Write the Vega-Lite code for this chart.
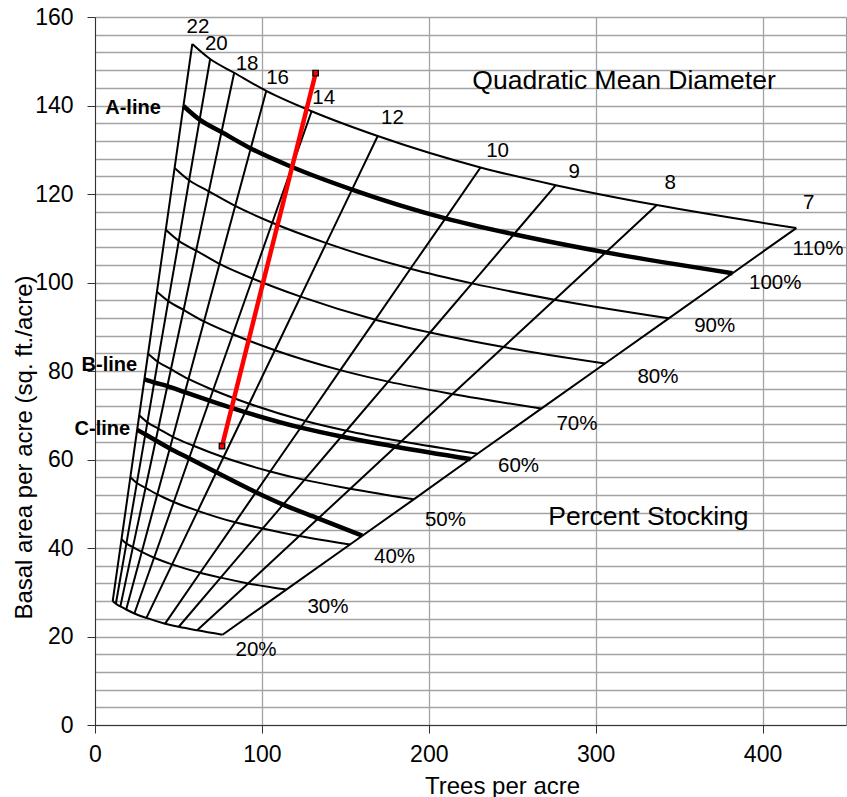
{
  "$schema": "https://vega.github.io/schema/vega-lite/v6.json",
  "width": 751,
  "height": 708,
  "autosize": {"type": "none"},
  "padding": {"left": 95, "top": 17, "right": 1, "bottom": 72},
  "config": {
    "font": "Liberation Sans",
    "view": {"stroke": "#9a9a9a", "strokeWidth": 1},
    "axis": {
      "labelFont": "Liberation Sans",
      "titleFont": "Liberation Sans",
      "labelColor": "black",
      "titleColor": "black",
      "titleFontWeight": "normal",
      "domainColor": "#333",
      "tickColor": "#333",
      "gridColor": "#a3a3a3",
      "gridWidth": 1.3,
      "labelFlush": false,
      "labelOverlap": false,
      "labelBound": false
    }
  },
  "datasets": {
    "grid": [
      {"d": 7, "s": 20, "tpa": 76.4, "ba": 20.4}, {"d": 8, "s": 20, "tpa": 61.2, "ba": 21.4}, {"d": 9, "s": 20, "tpa": 50.2, "ba": 22.2}, {"d": 10, "s": 20, "tpa": 42.0, "ba": 22.9}, {"d": 12, "s": 20, "tpa": 30.8, "ba": 24.2}, {"d": 14, "s": 20, "tpa": 23.6, "ba": 25.2}, {"d": 16, "s": 20, "tpa": 18.7, "ba": 26.1}, {"d": 18, "s": 20, "tpa": 15.2, "ba": 26.8}, {"d": 20, "s": 20, "tpa": 12.5, "ba": 27.4}, {"d": 22, "s": 20, "tpa": 10.6, "ba": 28.0},
      {"d": 7, "s": 30, "tpa": 114.6, "ba": 30.6}, {"d": 8, "s": 30, "tpa": 91.8, "ba": 32.0}, {"d": 9, "s": 30, "tpa": 75.3, "ba": 33.3}, {"d": 10, "s": 30, "tpa": 63.0, "ba": 34.4}, {"d": 12, "s": 30, "tpa": 46.2, "ba": 36.3}, {"d": 14, "s": 30, "tpa": 35.4, "ba": 37.8}, {"d": 16, "s": 30, "tpa": 28.0, "ba": 39.1}, {"d": 18, "s": 30, "tpa": 22.7, "ba": 40.2}, {"d": 20, "s": 30, "tpa": 18.8, "ba": 41.0}, {"d": 22, "s": 30, "tpa": 15.9, "ba": 42.0},
      {"d": 7, "s": 40, "tpa": 152.8, "ba": 40.8}, {"d": 8, "s": 40, "tpa": 122.4, "ba": 42.7}, {"d": 9, "s": 40, "tpa": 100.4, "ba": 44.4}, {"d": 10, "s": 40, "tpa": 84.0, "ba": 45.8}, {"d": 12, "s": 40, "tpa": 61.6, "ba": 48.4}, {"d": 14, "s": 40, "tpa": 47.2, "ba": 50.4}, {"d": 16, "s": 40, "tpa": 37.3, "ba": 52.1}, {"d": 18, "s": 40, "tpa": 30.3, "ba": 53.6}, {"d": 20, "s": 40, "tpa": 25.1, "ba": 54.7}, {"d": 22, "s": 40, "tpa": 21.2, "ba": 56.0},
      {"d": 7, "s": 50, "tpa": 191.0, "ba": 51.0}, {"d": 8, "s": 50, "tpa": 153.0, "ba": 53.4}, {"d": 9, "s": 50, "tpa": 125.5, "ba": 55.4}, {"d": 10, "s": 50, "tpa": 105.0, "ba": 57.3}, {"d": 12, "s": 50, "tpa": 77.0, "ba": 60.5}, {"d": 14, "s": 50, "tpa": 59.0, "ba": 63.1}, {"d": 16, "s": 50, "tpa": 46.7, "ba": 65.1}, {"d": 18, "s": 50, "tpa": 37.9, "ba": 67.0}, {"d": 20, "s": 50, "tpa": 31.4, "ba": 68.4}, {"d": 22, "s": 50, "tpa": 26.5, "ba": 70.0},
      {"d": 7, "s": 60, "tpa": 229.2, "ba": 61.3}, {"d": 8, "s": 60, "tpa": 183.6, "ba": 64.1}, {"d": 9, "s": 60, "tpa": 150.6, "ba": 66.5}, {"d": 10, "s": 60, "tpa": 126.0, "ba": 68.7}, {"d": 12, "s": 60, "tpa": 92.4, "ba": 72.6}, {"d": 14, "s": 60, "tpa": 70.8, "ba": 75.7}, {"d": 16, "s": 60, "tpa": 56.0, "ba": 78.2}, {"d": 18, "s": 60, "tpa": 45.5, "ba": 80.4}, {"d": 20, "s": 60, "tpa": 37.6, "ba": 82.1}, {"d": 22, "s": 60, "tpa": 31.8, "ba": 83.9},
      {"d": 7, "s": 70, "tpa": 267.4, "ba": 71.5}, {"d": 8, "s": 70, "tpa": 214.2, "ba": 74.8}, {"d": 9, "s": 70, "tpa": 175.7, "ba": 77.6}, {"d": 10, "s": 70, "tpa": 147.0, "ba": 80.2}, {"d": 12, "s": 70, "tpa": 107.8, "ba": 84.7}, {"d": 14, "s": 70, "tpa": 82.6, "ba": 88.3}, {"d": 16, "s": 70, "tpa": 65.3, "ba": 91.2}, {"d": 18, "s": 70, "tpa": 53.1, "ba": 93.8}, {"d": 20, "s": 70, "tpa": 43.9, "ba": 95.8}, {"d": 22, "s": 70, "tpa": 37.1, "ba": 97.9},
      {"d": 7, "s": 80, "tpa": 305.6, "ba": 81.7}, {"d": 8, "s": 80, "tpa": 244.8, "ba": 85.4}, {"d": 9, "s": 80, "tpa": 200.8, "ba": 88.7}, {"d": 10, "s": 80, "tpa": 168.0, "ba": 91.6}, {"d": 12, "s": 80, "tpa": 123.2, "ba": 96.8}, {"d": 14, "s": 80, "tpa": 94.4, "ba": 100.9}, {"d": 16, "s": 80, "tpa": 74.6, "ba": 104.2}, {"d": 18, "s": 80, "tpa": 60.6, "ba": 107.2}, {"d": 20, "s": 80, "tpa": 50.2, "ba": 109.4}, {"d": 22, "s": 80, "tpa": 42.4, "ba": 111.9},
      {"d": 7, "s": 90, "tpa": 343.8, "ba": 91.9}, {"d": 8, "s": 90, "tpa": 275.4, "ba": 96.1}, {"d": 9, "s": 90, "tpa": 225.9, "ba": 99.8}, {"d": 10, "s": 90, "tpa": 189.0, "ba": 103.1}, {"d": 12, "s": 90, "tpa": 138.6, "ba": 108.9}, {"d": 14, "s": 90, "tpa": 106.2, "ba": 113.5}, {"d": 16, "s": 90, "tpa": 84.0, "ba": 117.3}, {"d": 18, "s": 90, "tpa": 68.2, "ba": 120.6}, {"d": 20, "s": 90, "tpa": 56.4, "ba": 123.1}, {"d": 22, "s": 90, "tpa": 47.7, "ba": 125.9},
      {"d": 7, "s": 100, "tpa": 382.0, "ba": 102.1}, {"d": 8, "s": 100, "tpa": 306.0, "ba": 106.8}, {"d": 9, "s": 100, "tpa": 251.0, "ba": 110.9}, {"d": 10, "s": 100, "tpa": 210.0, "ba": 114.5}, {"d": 12, "s": 100, "tpa": 154.0, "ba": 121.0}, {"d": 14, "s": 100, "tpa": 118.0, "ba": 126.1}, {"d": 16, "s": 100, "tpa": 93.3, "ba": 130.3}, {"d": 18, "s": 100, "tpa": 75.8, "ba": 134.0}, {"d": 20, "s": 100, "tpa": 62.7, "ba": 136.8}, {"d": 22, "s": 100, "tpa": 53.0, "ba": 139.9},
      {"d": 7, "s": 110, "tpa": 420.2, "ba": 112.3}, {"d": 8, "s": 110, "tpa": 336.6, "ba": 117.5}, {"d": 9, "s": 110, "tpa": 276.1, "ba": 122.0}, {"d": 10, "s": 110, "tpa": 231.0, "ba": 126.0}, {"d": 12, "s": 110, "tpa": 169.4, "ba": 133.1}, {"d": 14, "s": 110, "tpa": 129.8, "ba": 138.7}, {"d": 16, "s": 110, "tpa": 102.6, "ba": 143.3}, {"d": 18, "s": 110, "tpa": 83.4, "ba": 147.4}, {"d": 20, "s": 110, "tpa": 69.0, "ba": 150.5}, {"d": 22, "s": 110, "tpa": 58.3, "ba": 153.9}
    ],
    "bline": [
      {"d": 22, "tpa": 29.6, "ba": 78.1}, {"d": 20, "tpa": 35.5, "ba": 77.4}, {"d": 18, "tpa": 43.4, "ba": 76.6}, {"d": 16, "tpa": 53.8, "ba": 75.2}, {"d": 14, "tpa": 68.6, "ba": 73.3}, {"d": 12, "tpa": 89.9, "ba": 70.7}, {"d": 10, "tpa": 123.3, "ba": 67.2}, {"d": 9, "tpa": 147.6, "ba": 65.2}, {"d": 8, "tpa": 180.2, "ba": 62.9}, {"d": 7, "tpa": 225.0, "ba": 60.1}
    ],
    "cline": [
      {"d": 22, "tpa": 25.3, "ba": 66.7}, {"d": 20, "tpa": 30.1, "ba": 65.7}, {"d": 18, "tpa": 36.4, "ba": 64.3}, {"d": 16, "tpa": 44.8, "ba": 62.5}, {"d": 14, "tpa": 56.4, "ba": 60.3}, {"d": 12, "tpa": 72.7, "ba": 57.1}, {"d": 10, "tpa": 96.4, "ba": 52.6}, {"d": 9, "tpa": 112.7, "ba": 49.8}, {"d": 8, "tpa": 133.7, "ba": 46.7}, {"d": 7, "tpa": 160.1, "ba": 42.8}
    ],
    "red": [
      {"tpa": 76.1, "ba": 63.0}, {"tpa": 132.2, "ba": 147.3}
    ],
    "labels": [
      {"kind": "d", "label": "22", "tpa": 61.7, "ba": 157.7},
      {"kind": "d", "label": "20", "tpa": 72.7, "ba": 153.8},
      {"kind": "d", "label": "18", "tpa": 91.1, "ba": 149.4},
      {"kind": "d", "label": "16", "tpa": 109.4, "ba": 146.3},
      {"kind": "d", "label": "14", "tpa": 137.0, "ba": 141.6},
      {"kind": "d", "label": "12", "tpa": 178.2, "ba": 137.2},
      {"kind": "d", "label": "10", "tpa": 241.2, "ba": 129.8},
      {"kind": "d", "label": "9", "tpa": 287.2, "ba": 124.9},
      {"kind": "d", "label": "8", "tpa": 344.7, "ba": 122.4},
      {"kind": "d", "label": "7", "tpa": 427.6, "ba": 117.9},
      {"kind": "d", "label": "110%", "tpa": 433.2, "ba": 107.5},
      {"kind": "d", "label": "100%", "tpa": 407.6, "ba": 100.0},
      {"kind": "d", "label": "90%", "tpa": 371.3, "ba": 90.2},
      {"kind": "d", "label": "80%", "tpa": 337.3, "ba": 78.7},
      {"kind": "d", "label": "70%", "tpa": 288.8, "ba": 68.0},
      {"kind": "d", "label": "60%", "tpa": 253.8, "ba": 58.5},
      {"kind": "d", "label": "50%", "tpa": 210.0, "ba": 46.3},
      {"kind": "d", "label": "40%", "tpa": 179.5, "ba": 37.9},
      {"kind": "d", "label": "30%", "tpa": 139.6, "ba": 26.6},
      {"kind": "d", "label": "20%", "tpa": 96.5, "ba": 16.9},
      {"kind": "big", "label": "Quadratic Mean Diameter", "tpa": 317.0, "ba": 145.6},
      {"kind": "big", "label": "Percent Stocking", "tpa": 331.6, "ba": 47.0},
      {"kind": "line", "label": "A-line", "tpa": 22.8, "ba": 139.5},
      {"kind": "line", "label": "B-line", "tpa": 8.6, "ba": 81.4},
      {"kind": "line", "label": "C-line", "tpa": 4.4, "ba": 66.8}
    ]
  },
  "layer": [
    {
      "data": {"name": "grid"},
      "mark": {"type": "line", "color": "black", "strokeWidth": 2},
      "encoding": {
        "x": {
          "field": "tpa", "type": "quantitative",
          "scale": {"domain": [0, 450], "nice": false, "zero": false},
          "axis": {
            "values": [0, 100, 200, 300, 400],
            "title": "Trees per acre",
            "tickSize": 8,
            "labelFontSize": 23,
            "labelPadding": 10,
            "titleFontSize": 24,
            "titleX": 407,
            "titleY": 68,
            "titleAlign": "center",
            "titleBaseline": "alphabetic"
          }
        },
        "y": {
          "field": "ba", "type": "quantitative",
          "scale": {"domain": [0, 160], "nice": false, "zero": false},
          "axis": {
            "values": [0, 4, 8, 12, 16, 20, 24, 28, 32, 36, 40, 44, 48, 52, 56, 60, 64, 68, 72, 76, 80, 84, 88, 92, 96, 100, 104, 108, 112, 116, 120, 124, 128, 132, 136, 140, 144, 148, 152, 156, 160],
            "tickCount": 100,
            "labelExpr": "datum.value % 20 === 0 ? datum.label : ''",
            "tickOpacity": {"condition": {"test": "datum.value % 20 === 0", "value": 1}, "value": 0},
            "title": "Basal area per acre (sq. ft./acre)",
            "tickSize": 8,
            "labelFontSize": 23,
            "labelPadding": 14,
            "titleFontSize": 24,
            "titleAngle": 270,
            "titleX": -64,
            "titleY": 430,
            "titleAlign": "center",
            "titleBaseline": "alphabetic"
          }
        },
        "detail": {"field": "d"}
      }
    },
    {
      "data": {"name": "grid"},
      "transform": [{"filter": "datum.s !== 100"}],
      "mark": {"type": "line", "color": "black", "strokeWidth": 2, "interpolate": "monotone"},
      "encoding": {
        "x": {"field": "tpa", "type": "quantitative"},
        "y": {"field": "ba", "type": "quantitative"},
        "detail": {"field": "s"}
      }
    },
    {
      "data": {"name": "grid"},
      "transform": [{"filter": "datum.s === 100"}],
      "mark": {"type": "line", "color": "black", "strokeWidth": 4.5, "interpolate": "monotone"},
      "encoding": {
        "x": {"field": "tpa", "type": "quantitative"},
        "y": {"field": "ba", "type": "quantitative"}
      }
    },
    {
      "data": {"name": "bline"},
      "mark": {"type": "line", "color": "black", "strokeWidth": 4.5, "interpolate": "monotone"},
      "encoding": {
        "x": {"field": "tpa", "type": "quantitative"},
        "y": {"field": "ba", "type": "quantitative"}
      }
    },
    {
      "data": {"name": "cline"},
      "mark": {"type": "line", "color": "black", "strokeWidth": 4.5, "interpolate": "monotone"},
      "encoding": {
        "x": {"field": "tpa", "type": "quantitative"},
        "y": {"field": "ba", "type": "quantitative"}
      }
    },
    {
      "data": {"name": "red"},
      "mark": {"type": "line", "color": "#ff0000", "strokeWidth": 4.5},
      "encoding": {
        "x": {"field": "tpa", "type": "quantitative"},
        "y": {"field": "ba", "type": "quantitative"}
      }
    },
    {
      "data": {"name": "red"},
      "mark": {"type": "point", "shape": "square", "filled": true, "fill": "#ff0000", "stroke": "black", "strokeWidth": 1.3, "size": 30, "opacity": 1},
      "encoding": {
        "x": {"field": "tpa", "type": "quantitative"},
        "y": {"field": "ba", "type": "quantitative"}
      }
    },
    {
      "data": {"name": "labels"},
      "transform": [{"filter": "datum.kind === 'd'"}],
      "mark": {"type": "text", "fontSize": 20.5, "align": "center", "baseline": "middle", "color": "black", "font": "Liberation Sans"},
      "encoding": {
        "x": {"field": "tpa", "type": "quantitative"},
        "y": {"field": "ba", "type": "quantitative"},
        "text": {"field": "label"}
      }
    },
    {
      "data": {"name": "labels"},
      "transform": [{"filter": "datum.kind === 'big'"}],
      "mark": {"type": "text", "fontSize": 26.5, "align": "center", "baseline": "middle", "color": "black", "font": "Liberation Sans"},
      "encoding": {
        "x": {"field": "tpa", "type": "quantitative"},
        "y": {"field": "ba", "type": "quantitative"},
        "text": {"field": "label"}
      }
    },
    {
      "data": {"name": "labels"},
      "transform": [{"filter": "datum.kind === 'line'"}],
      "mark": {"type": "text", "fontSize": 20, "fontWeight": "bold", "align": "center", "baseline": "middle", "color": "black", "font": "Liberation Sans"},
      "encoding": {
        "x": {"field": "tpa", "type": "quantitative"},
        "y": {"field": "ba", "type": "quantitative"},
        "text": {"field": "label"}
      }
    }
  ]
}
